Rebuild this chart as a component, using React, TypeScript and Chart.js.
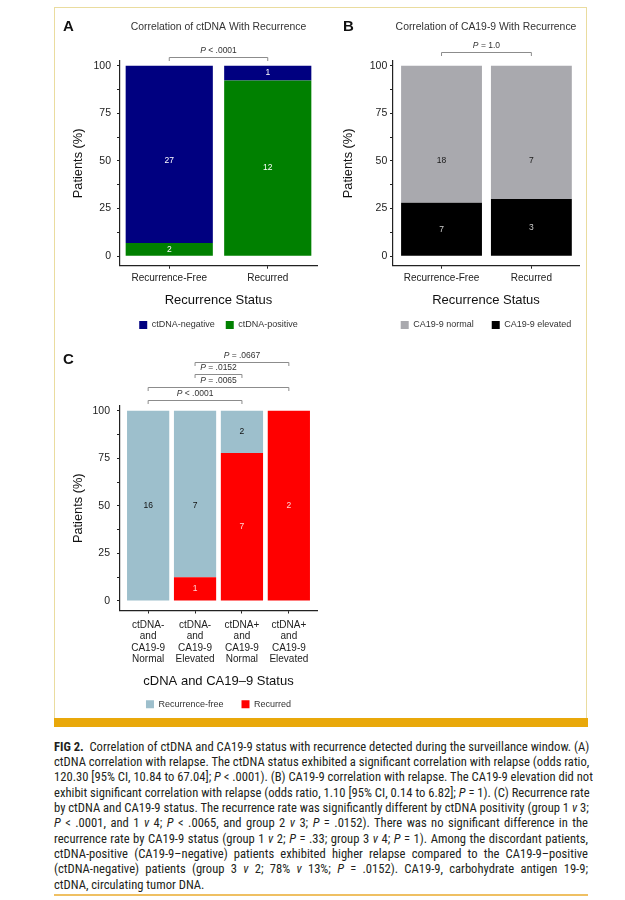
import React, { useEffect, useRef } from "react";
import { Chart, registerables } from "chart.js";

Chart.register(...registerables);

const SANS = "'Liberation Sans', Arial, Helvetica, sans-serif";
const CAPTION_FONT = "'Liberation Sans Narrow', 'Arial Narrow', 'Roboto Condensed', 'Liberation Sans', sans-serif";

// ---------- Panel A: ctDNA vs recurrence ----------
const categoriesA = ["Recurrence-Free", "Recurred"];
const ctdnaNegativeCounts = [27, 1];
const ctdnaPositiveCounts = [2, 12];
const comparisonsA = [[0, 1]];
const pValuesA = ["< .0001"];

// ---------- Panel B: CA19-9 vs recurrence ----------
const categoriesB = ["Recurrence-Free", "Recurred"];
const ca199NormalCounts = [18, 7];
const ca199ElevatedCounts = [7, 3];
const comparisonsB = [[0, 1]];
const pValuesB = ["= 1.0"];

// ---------- Panel C: combined status ----------
const categoriesC = [
  ["ctDNA-", "and", "CA19-9", "Normal"],
  ["ctDNA-", "and", "CA19-9", "Elevated"],
  ["ctDNA+", "and", "CA19-9", "Normal"],
  ["ctDNA+", "and", "CA19-9", "Elevated"],
];
const recurrenceFreeCounts = [16, 7, 2, 0];
const recurredCounts = [0, 1, 7, 2];
const comparisonsC = [[0, 2], [0, 3], [1, 2], [1, 3]];
const pValuesC = ["< .0001", "= .0065", "= .0152", "= .0667"];

// ---------- Shared y axis ----------
const yTickMarks = [0, 12.5, 25, 37.5, 50, 62.5, 75, 87.5, 100];
const yTickLabels = [0, 25, 50, 75, 100];

const barLabelPlugin = {
  id: "barLabels",
  afterDatasetsDraw(chart: any) {
    const { ctx } = chart;
    const yScale = chart.scales.y;
    const dsets = chart.data.datasets;
    ctx.save();
    ctx.font = `8.5px ${SANS}`;
    ctx.textAlign = "center";
    ctx.textBaseline = "middle";
    dsets.forEach((ds: any, di: number) => {
      const meta = chart.getDatasetMeta(di);
      meta.data.forEach((el: any, i: number) => {
        const count = ds.counts[i];
        if (!count) return;
        const { x, y, base } = el.getProps(["x", "y", "base"], true);
        let ty = (y + base) / 2;
        if (di === 1) {
          const lower = dsets[0].data[i].y;
          if (lower < 50) ty = yScale.getPixelForValue(50);
        }
        ctx.fillStyle = ds.labelColor;
        ctx.fillText(String(count), x, ty);
      });
    });
    ctx.restore();
  },
};

const bracketPlugin = {
  id: "pBrackets",
  afterDraw(chart: any, _args: any, opts: any) {
    const items = opts.items || [];
    if (!items.length) return;
    const { ctx, chartArea } = chart;
    const xs = chart.scales.x;
    ctx.save();
    items.forEach((it: any, k: number) => {
      const y = Math.round(chartArea.top - opts.base - k * opts.step) + 0.5;
      const x1 = xs.getPixelForValue(it.from);
      const x2 = xs.getPixelForValue(it.to);
      ctx.strokeStyle = "#8c8c8c";
      ctx.lineWidth = 1;
      ctx.beginPath();
      ctx.moveTo(x1, y + 3.5);
      ctx.lineTo(x1, y);
      ctx.lineTo(x2, y);
      ctx.lineTo(x2, y + 3.5);
      ctx.stroke();
      const ty = y - opts.textGap;
      const italic = `italic 8.5px ${SANS}`;
      const normal = `8.5px ${SANS}`;
      ctx.font = italic;
      const wP = ctx.measureText("P").width;
      const rest = " " + it.text;
      ctx.font = normal;
      const wR = ctx.measureText(rest).width;
      const sx = (x1 + x2) / 2 - (wP + wR) / 2;
      ctx.fillStyle = "#333";
      ctx.textBaseline = "middle";
      ctx.textAlign = "left";
      ctx.font = italic;
      ctx.fillText("P", sx, ty);
      ctx.font = normal;
      ctx.fillText(rest, sx + wP, ty);
    });
    ctx.restore();
  },
};

type Series = { label: string; counts: number[]; color: string; labelColor: string };
type Spec = {
  left: number; top: number; width: number; height: number;
  categories: (string | string[])[];
  bottom: Series; top2: Series;
  title?: string;
  comparisons: number[][]; pValues: string[];
  xTitle: string;
  xMin: number; xMax: number; barPct: number;
  yAxisW: number; xAxisH: number;
  titlePad: { top: number; bottom: number };
  padTop: number; padBottom: number;
  yTitlePadT: number; yTickPad: number;
  xTickPad: number; xTickLH: number; xTitlePadB: number;
  bracketBase: number; bracketStep: number;
  legendPad: number;
};

function buildConfig(s: Spec): any {
  const totals = s.categories.map((_, i) => s.bottom.counts[i] + s.top2.counts[i]);
  const toPct = (counts: number[]) => counts.map((c, i) => ({ x: i, y: (c / totals[i]) * 100 }));
  const ds = (d: Series) => ({
    label: d.label,
    data: toPct(d.counts),
    counts: d.counts,
    labelColor: d.labelColor,
    backgroundColor: d.color,
    borderWidth: 0,
    barPercentage: s.barPct,
    categoryPercentage: 1,
  });
  return {
    type: "bar",
    data: { datasets: [ds(s.bottom), ds(s.top2)] },
    plugins: [barLabelPlugin, bracketPlugin],
    options: {
      animation: false,
      responsive: true,
      maintainAspectRatio: false,
      events: [],
      layout: { padding: { top: s.padTop, bottom: s.padBottom, left: 0, right: 0 } },
      plugins: {
        legend: {
          display: true,
          position: "bottom",
          reverse: true,
          labels: { boxWidth: 8, boxHeight: 8, padding: s.legendPad, font: { size: 9, family: SANS }, color: "#333" },
        },
        title: s.title
          ? { display: true, text: s.title, font: { size: 10.4, family: SANS, weight: "normal" }, color: "#333", padding: s.titlePad }
          : { display: false },
        tooltip: { enabled: false },
        pBrackets: {
          items: s.comparisons.map((c, i) => ({ from: c[0], to: c[1], text: s.pValues[i] })),
          base: s.bracketBase,
          step: s.bracketStep,
          textGap: 7,
        },
      },
      scales: {
        x: {
          type: "linear",
          stacked: true,
          min: s.xMin,
          max: s.xMax,
          offset: false,
          afterBuildTicks: (sc: any) => { sc.ticks = s.categories.map((_, i) => ({ value: i })); },
          afterFit: (sc: any) => { sc.height = s.xAxisH; },
          ticks: {
            callback: (v: number) => s.categories[v],
            font: { size: 10, family: SANS, lineHeight: s.xTickLH },
            color: "#222",
            padding: s.xTickPad,
            maxRotation: 0,
            autoSkip: false,
          },
          grid: { display: true, drawOnChartArea: false, drawTicks: true, tickLength: 3, color: "#222", offset: false },
          border: { display: true, color: "#222", width: 1.2 },
          title: { display: true, text: s.xTitle, font: { size: 13, family: SANS }, color: "#111", padding: { top: 0, bottom: s.xTitlePadB } },
        },
        y: {
          type: "linear",
          stacked: true,
          position: "left",
          min: -5,
          max: 102.5,
          afterBuildTicks: (sc: any) => { sc.ticks = yTickMarks.map((v) => ({ value: v })); },
          afterFit: (sc: any) => { sc.width = s.yAxisW; },
          ticks: {
            callback: (v: number) => (yTickLabels.includes(v) ? String(v) : ""),
            font: { size: 10.5, family: SANS },
            color: "#222",
            padding: s.yTickPad,
            autoSkip: false,
          },
          grid: { display: true, drawOnChartArea: false, drawTicks: true, tickLength: 3, color: "#222" },
          border: { display: true, color: "#222", width: 1.2 },
          title: { display: true, text: "Patients (%)", font: { size: 12.8, family: SANS }, color: "#111", padding: { top: s.yTitlePadT, bottom: 0 } },
        },
        yR: {
          type: "linear",
          position: "right",
          display: true,
          afterFit: (sc: any) => { sc.width = s.yAxisW; },
          grid: { display: false },
          ticks: { display: false },
          border: { display: false },
        },
      },
    },
  };
}

const specA: Spec = {
  left: 55, top: 8, width: 327, height: 332,
  categories: categoriesA,
  bottom: { label: "ctDNA-positive", counts: ctdnaPositiveCounts, color: "#008000", labelColor: "#ffffff" },
  top2: { label: "ctDNA-negative", counts: ctdnaNegativeCounts, color: "#000080", labelColor: "#ffffff" },
  title: "Correlation of ctDNA With Recurrence",
  comparisons: comparisonsA, pValues: pValuesA,
  xTitle: "Recurrence Status",
  xMin: -0.5, xMax: 1.5, barPct: 0.885,
  yAxisW: 65, xAxisH: 43.8,
  titlePad: { top: 12.76, bottom: 27.76 },
  padTop: 0, padBottom: 0.5,
  yTitlePadT: 15.6, yTickPad: 6,
  xTickPad: 3.3, xTickLH: 1.2, xTitlePadB: 1.7,
  bracketBase: 4.3, bracketStep: 12.8,
  legendPad: 11,
};

const specB: Spec = {
  left: 337, top: 8, width: 298, height: 332,
  categories: categoriesB,
  bottom: { label: "CA19-9 elevated", counts: ca199ElevatedCounts, color: "#000000", labelColor: "#cfcfcf" },
  top2: { label: "CA19-9 normal", counts: ca199NormalCounts, color: "#A9A9AE", labelColor: "#1a1a1a" },
  title: "Correlation of CA19-9 With Recurrence",
  comparisons: comparisonsB, pValues: pValuesB,
  xTitle: "Recurrence Status",
  xMin: -0.54, xMax: 1.53, barPct: 0.9,
  yAxisW: 56, xAxisH: 36.8,
  titlePad: { top: 12.76, bottom: 27.76 },
  padTop: 0, padBottom: 0.5,
  yTitlePadT: 3.6, yTickPad: 2.7,
  xTickPad: 3.3, xTickLH: 1.2, xTitlePadB: -5.3,
  bracketBase: 9.3, bracketStep: 12.8,
  legendPad: 18,
};

const specC: Spec = {
  left: 55, top: 340, width: 327, height: 380,
  categories: categoriesC,
  bottom: { label: "Recurred", counts: recurredCounts, color: "#FF0000", labelColor: "#ffd6d6" },
  top2: { label: "Recurrence-free", counts: recurrenceFreeCounts, color: "#9DBFCC", labelColor: "#111111" },
  comparisons: comparisonsC, pValues: pValuesC,
  xTitle: "cDNA and CA19\u20139 Status",
  xMin: -0.6, xMax: 3.6, barPct: 0.9,
  yAxisW: 65, xAxisH: 71.3,
  titlePad: { top: 0, bottom: 0 },
  padTop: 66, padBottom: 1.2,
  yTitlePadT: 15.6, yTickPad: 7,
  xTickPad: 5.8, xTickLH: 1.14, xTitlePadB: -7.7,
  bracketBase: 6, bracketStep: 12.77,
  legendPad: 18,
};

function Panel({ spec }: { spec: Spec }) {
  const ref = useRef<HTMLCanvasElement | null>(null);
  useEffect(() => {
    if (!ref.current) return;
    const chart = new Chart(ref.current, buildConfig(spec));
    return () => chart.destroy();
  }, [spec]);
  return (
    <div style={{ position: "absolute", left: spec.left, top: spec.top, width: spec.width, height: spec.height }}>
      <canvas ref={ref} />
    </div>
  );
}

const letterStyle: React.CSSProperties = {
  position: "absolute",
  fontFamily: SANS,
  fontWeight: "bold",
  fontSize: 15,
  lineHeight: "15px",
  color: "#111",
};

const lineBase: React.CSSProperties = {
  height: 15.35,
  lineHeight: "15.35px",
  whiteSpace: "nowrap",
  textAlign: "justify",
  textAlignLast: "justify" as any,
};

export default function App() {
  return (
    <div style={{ position: "absolute", left: 0, top: 0, width: 625, height: 900, overflow: "hidden", background: "#fff" }}>
      <div style={{ position: "absolute", left: 54, top: 7, width: 533, height: 711, border: "1px solid #EADC9F", borderBottom: "none", boxSizing: "border-box" }} />
      <div style={{ position: "absolute", left: 54, top: 718, width: 534, height: 9, background: "#E9A80A" }} />
      <div style={{ position: "absolute", left: 54, top: 894, width: 534, height: 1.5, background: "#EFC063" }} />

      <Panel spec={specA} />
      <Panel spec={specB} />
      <Panel spec={specC} />

      <div style={{ ...letterStyle, left: 63, top: 17.5 }}>A</div>
      <div style={{ ...letterStyle, left: 343, top: 17.5 }}>B</div>
      <div style={{ ...letterStyle, left: 63, top: 350.5 }}>C</div>

      <div style={{ position: "absolute", left: 54, top: 738.5, width: 534, fontFamily: CAPTION_FONT, fontSize: 12.6, color: "#231F20" }}>
        <div style={lineBase}><b>FIG 2.</b>&nbsp; Correlation of ctDNA and CA19-9 status with recurrence detected during the surveillance window. (A)</div>
        <div style={lineBase}>ctDNA correlation with relapse. The ctDNA status exhibited a significant correlation with relapse (odds ratio,</div>
        <div style={lineBase}>120.30 [95% CI, 10.84 to 67.04]; <i>P</i> &lt; .0001). (B) CA19-9 correlation with relapse. The CA19-9 elevation did not</div>
        <div style={lineBase}>exhibit significant correlation with relapse (odds ratio, 1.10 [95% CI, 0.14 to 6.82]; <i>P</i> = 1). (C) Recurrence rate</div>
        <div style={lineBase}>by ctDNA and CA19-9 status. The recurrence rate was significantly different by ctDNA positivity (group 1 <i>v</i> 3;</div>
        <div style={lineBase}><i>P</i> &lt; .0001, and 1 <i>v</i> 4; <i>P</i> &lt; .0065, and group 2 <i>v</i> 3; <i>P</i> = .0152). There was no significant difference in the</div>
        <div style={lineBase}>recurrence rate by CA19-9 status (group 1 <i>v</i> 2; <i>P</i> = .33; group 3 <i>v</i> 4; <i>P</i> = 1). Among the discordant patients,</div>
        <div style={lineBase}>ctDNA-positive (CA19-9{"\u2013"}negative) patients exhibited higher relapse compared to the CA19-9{"\u2013"}positive</div>
        <div style={lineBase}>(ctDNA-negative) patients (group 3 <i>v</i> 2; 78% <i>v</i> 13%; <i>P</i> = .0152). CA19-9, carbohydrate antigen 19-9;</div>
        <div style={{ ...lineBase, textAlignLast: "left" as any }}>ctDNA, circulating tumor DNA.</div>
      </div>
    </div>
  );
}
